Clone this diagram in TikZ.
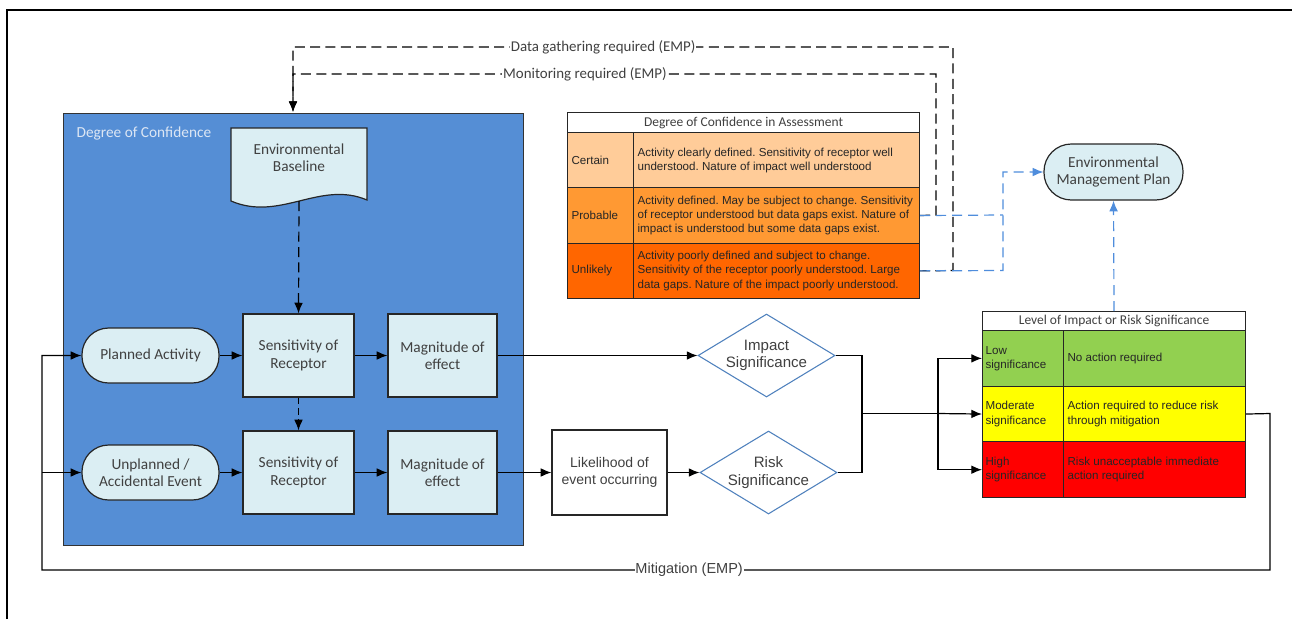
\documentclass[tikz,border=0pt]{standalone}
\usepackage{fontspec}
\setmainfont{Carlito}
\newfontfamily\ariFam{Liberation Sans}
\usetikzlibrary{arrows.meta,shapes.geometric,calc}
\definecolor{boxblue}{HTML}{558ED5}
\definecolor{nodefill}{HTML}{DBEEF3}
\definecolor{txtgray}{HTML}{404040}
\definecolor{dashblue}{HTML}{4F8DDC}
\definecolor{diaedge}{HTML}{4F81BD}
\definecolor{conflbl}{HTML}{DCE6F4}
\definecolor{certainc}{HTML}{FFCC99}
\definecolor{probablec}{HTML}{FF9933}
\definecolor{unlikelyc}{HTML}{FF6600}
\definecolor{lowc}{HTML}{92D050}
\definecolor{modc}{HTML}{FFFF00}
\definecolor{highc}{HTML}{FF0000}
\newcommand{\xCal}{\fontsize{11.5pt}{13pt}\selectfont}
\newcommand{\xAri}{\ariFam\fontsize{8.7pt}{10.6pt}\selectfont}
\newcommand{\xHead}{\fontsize{10.1pt}{12pt}\selectfont}
\newcommand{\xDia}{\ariFam\fontsize{11.3pt}{13.2pt}\selectfont}
\newcommand{\xLike}{\ariFam\fontsize{10.5pt}{12.6pt}\selectfont}
\newcommand{\xLab}{\fontsize{11.2pt}{13pt}\selectfont}
\newcommand{\xMit}{\ariFam\fontsize{10.9pt}{13pt}\selectfont}
\frenchspacing
\begin{document}
\begin{tikzpicture}[x=0.75pt,y=-0.75pt,line width=0.9pt,
  >={Latex[length=8pt,width=6.5pt]},
  proc/.style={draw=black!85,fill=nodefill,text=txtgray,align=center,inner sep=0pt,
    font=\xCal,minimum width=83.25pt,minimum height=62.25pt},
  magbox/.style={proc,minimum width=81.75pt},
  term/.style={proc,rounded corners=20pt,minimum width=102.75pt,minimum height=41.25pt},
  dia/.style={diamond,draw=diaedge,line width=0.8pt,fill=white,text=txtgray,aspect=1.65,
    inner sep=0pt,minimum width=102.75pt,minimum height=62.25pt,font=\xDia,align=center},
  cell/.style={draw=black!85,line width=0.8pt,inner sep=0pt,anchor=north west},
  celltxt/.style={anchor=west,align=left,inner sep=0pt,font=\xAri,text=black!85},
  hdr/.style={cell,fill=white,font=\xHead,text=txtgray},
  blkdash/.style={draw=black,dash pattern=on 7.5pt off 4pt},
  bluedash/.style={draw=dashblue,dash pattern=on 7.5pt off 4.5pt},
  lbl/.style={fill=white,inner sep=0.6pt,font=\xLab,text=txtgray},
]
\useasboundingbox (0,0) rectangle (1292,619);
\draw[line width=1.5pt] (7,619) -- (7,10) -- (1292,10);

% Blue confidence area
\node[draw=black!80,fill=boxblue,minimum width=345pt,minimum height=324pt,inner sep=0pt,anchor=north west] (conf) at (63,113) {};
\node[anchor=west,text=conflbl,font=\xCal,inner sep=0pt] (conftitle) at (76,133) {Degree of Confidence};

% Environmental baseline (document shape)
\draw[draw=black!85,fill=nodefill] (231,128) -- (367,128) -- (367,200) .. controls (320,180) and (280,222) .. (231,201) -- cycle;
\node[font=\xCal,text=txtgray,align=center] (base) at (299,158) {Environmental\\Baseline};
\coordinate (basebot) at (299,201);

% Process nodes
\node[term] (plan) at (150.5,355.5) {Planned Activity};
\node[term] (unpl) at (150.5,472.5) {Unplanned /\\Accidental Event};
\node[proc] (sens1) at (298.5,355.5) {Sensitivity of\\Receptor};
\node[proc] (sens2) at (298.5,472.5) {Sensitivity of\\Receptor};
\node[magbox] (mag1) at (442.5,355.5) {Magnitude of\\effect};
\node[magbox] (mag2) at (442.5,472.5) {Magnitude of\\effect};
\node[draw=black!85,fill=white,text=txtgray,align=center,inner sep=0pt,font=\xLike,
  minimum width=86.25pt,minimum height=63.75pt] (like) at (609.5,472.5) {Likelihood of\\event occurring};
\node[dia] (imp) at (766.5,355.5) {Impact\\Significance};
\node[dia] (risk) at (768.5,472.5) {Risk\\Significance};
\node[term,minimum width=104.25pt,minimum height=42pt,rounded corners=20.5pt] (emp) at (1113.5,172) {Environmental\\Management Plan};

% Degree of confidence table
\node[hdr,minimum width=264pt,minimum height=15pt] (dhdr) at (567,112) {Degree of Confidence in Assessment};
\node[cell,fill=certainc,minimum width=49.5pt,minimum height=41.5pt] (cerL) at (567,132) {};
\node[cell,fill=certainc,minimum width=214.5pt,minimum height=41.5pt] (cerR) at (633,132) {};
\node[cell,fill=probablec,minimum width=49.5pt,minimum height=41.5pt] (proL) at (567,187.33) {};
\node[cell,fill=probablec,minimum width=214.5pt,minimum height=41.5pt] (proR) at (633,187.33) {};
\node[cell,fill=unlikelyc,minimum width=49.5pt,minimum height=41.5pt] (unlL) at (567,242.67) {};
\node[cell,fill=unlikelyc,minimum width=214.5pt,minimum height=41.5pt] (unlR) at (633,242.67) {};
\node[celltxt] (tcerL) at ($(cerL.west)+(4,0)$) {Certain};
\node[celltxt] (tproL) at ($(proL.west)+(4,0)$) {Probable};
\node[celltxt] (tunlL) at ($(unlL.west)+(4,0)$) {Unlikely};
\node[celltxt] (tcerR) at ($(cerR.west)+(4,0)$) {Activity clearly defined. Sensitivity of receptor well\\understood. Nature of impact well understood};
\node[celltxt] (tproR) at ($(proR.west)+(4,0)$) {Activity defined. May be subject to change. Sensitivity\\of receptor understood but data gaps exist. Nature of\\impact is understood but some data gaps exist.};
\node[celltxt] (tunlR) at ($(unlR.west)+(4,0)$) {Activity poorly defined and subject to change.\\Sensitivity of the receptor poorly understood. Large\\data gaps. Nature of the impact poorly understood.};

% Level of impact table
\node[hdr,minimum width=197.25pt,minimum height=14.25pt] (lhdr) at (982,311) {Level of Impact or Risk Significance};
\node[cell,fill=lowc,minimum width=60.75pt,minimum height=41.75pt] (lowL) at (982,330) {};
\node[cell,fill=lowc,minimum width=136.5pt,minimum height=41.75pt] (lowR) at (1063,330) {};
\node[cell,fill=modc,minimum width=60.75pt,minimum height=41.75pt] (modL) at (982,385.67) {};
\node[cell,fill=modc,minimum width=136.5pt,minimum height=41.75pt] (modR) at (1063,385.67) {};
\node[cell,fill=highc,minimum width=60.75pt,minimum height=41.75pt] (highL) at (982,441.33) {};
\node[cell,fill=highc,minimum width=136.5pt,minimum height=41.75pt] (highR) at (1063,441.33) {};
\node[celltxt] (tlowL) at ($(lowL.west)+(3,0)$) {Low\\significance};
\node[celltxt] (tmodL) at ($(modL.west)+(3,0)$) {Moderate\\significance};
\node[celltxt] (thighL) at ($(highL.west)+(3,0)$) {High\\significance};
\node[celltxt] (tlowR) at ($(lowR.west)+(4,0)$) {No action required};
\node[celltxt] (tmodR) at ($(modR.west)+(4,0)$) {Action required to reduce risk\\through mitigation};
\node[celltxt] (thighR) at ($(highR.west)+(4,0)$) {Risk unacceptable immediate\\action required};

% Dashed feedback lines (black)
\draw[blkdash,->] (unlR.east) -- (953,270.5) -- (953,47) -- node[lbl,pos=0.53]{Data gathering required (EMP)} (293,47) -- (293,112);
\draw[blkdash,->] (proR.east) -- (936,215) -- (936,74) -- node[lbl,pos=0.546]{Monitoring required (EMP)} (293,74) -- (293,112);

% Blue dashed to EMP
\draw[bluedash] (proR.east) -- (1003,215);
\draw[bluedash,->] (unlR.east) -- (1003,270.5) -- (1003,172) -- (emp.west);
\draw[bluedash,->] (lhdr.north) -- (emp.south);

% Inner dashed arrows
\draw[blkdash,->] (basebot) -- (sens1.north);
\draw[blkdash,dash pattern=on 5pt off 3pt,->] (sens1.south) -- (sens2.north);

% Flow arrows
\draw[->] (plan.east) -- (sens1.west);
\draw[->] (sens1.east) -- (mag1.west);
\draw[->] (unpl.east) -- (sens2.west);
\draw[->] (sens2.east) -- (mag2.west);
\draw[->] (mag1.east) -- (imp.west);
\draw[->] (mag2.east) -- (like.west);
\draw[->] (like.east) -- (risk.west);
\coordinate (join) at (862,413.5);
\draw (imp.east) -| (join) |- (risk.east);
\coordinate (split) at (938,413.5);
\draw (join) -- (split);
\draw[->] (split) |- (lowL.west);
\draw[->] (split) -- (modL.west);
\draw[->] (split) |- (highL.west);

% Mitigation loop
\coordinate (mitL) at (42,570);
\draw[->] (modR.east) -- (1270,413.5) -- (1270,570) -- node[pos=0.473,fill=white,inner sep=0.6pt,font=\xMit,text=txtgray]{Mitigation (EMP)} (mitL) -- (42,355.5) -- (plan.west);
\draw[->] (42,472.5) -- (unpl.west);
\end{tikzpicture}
\end{document}
